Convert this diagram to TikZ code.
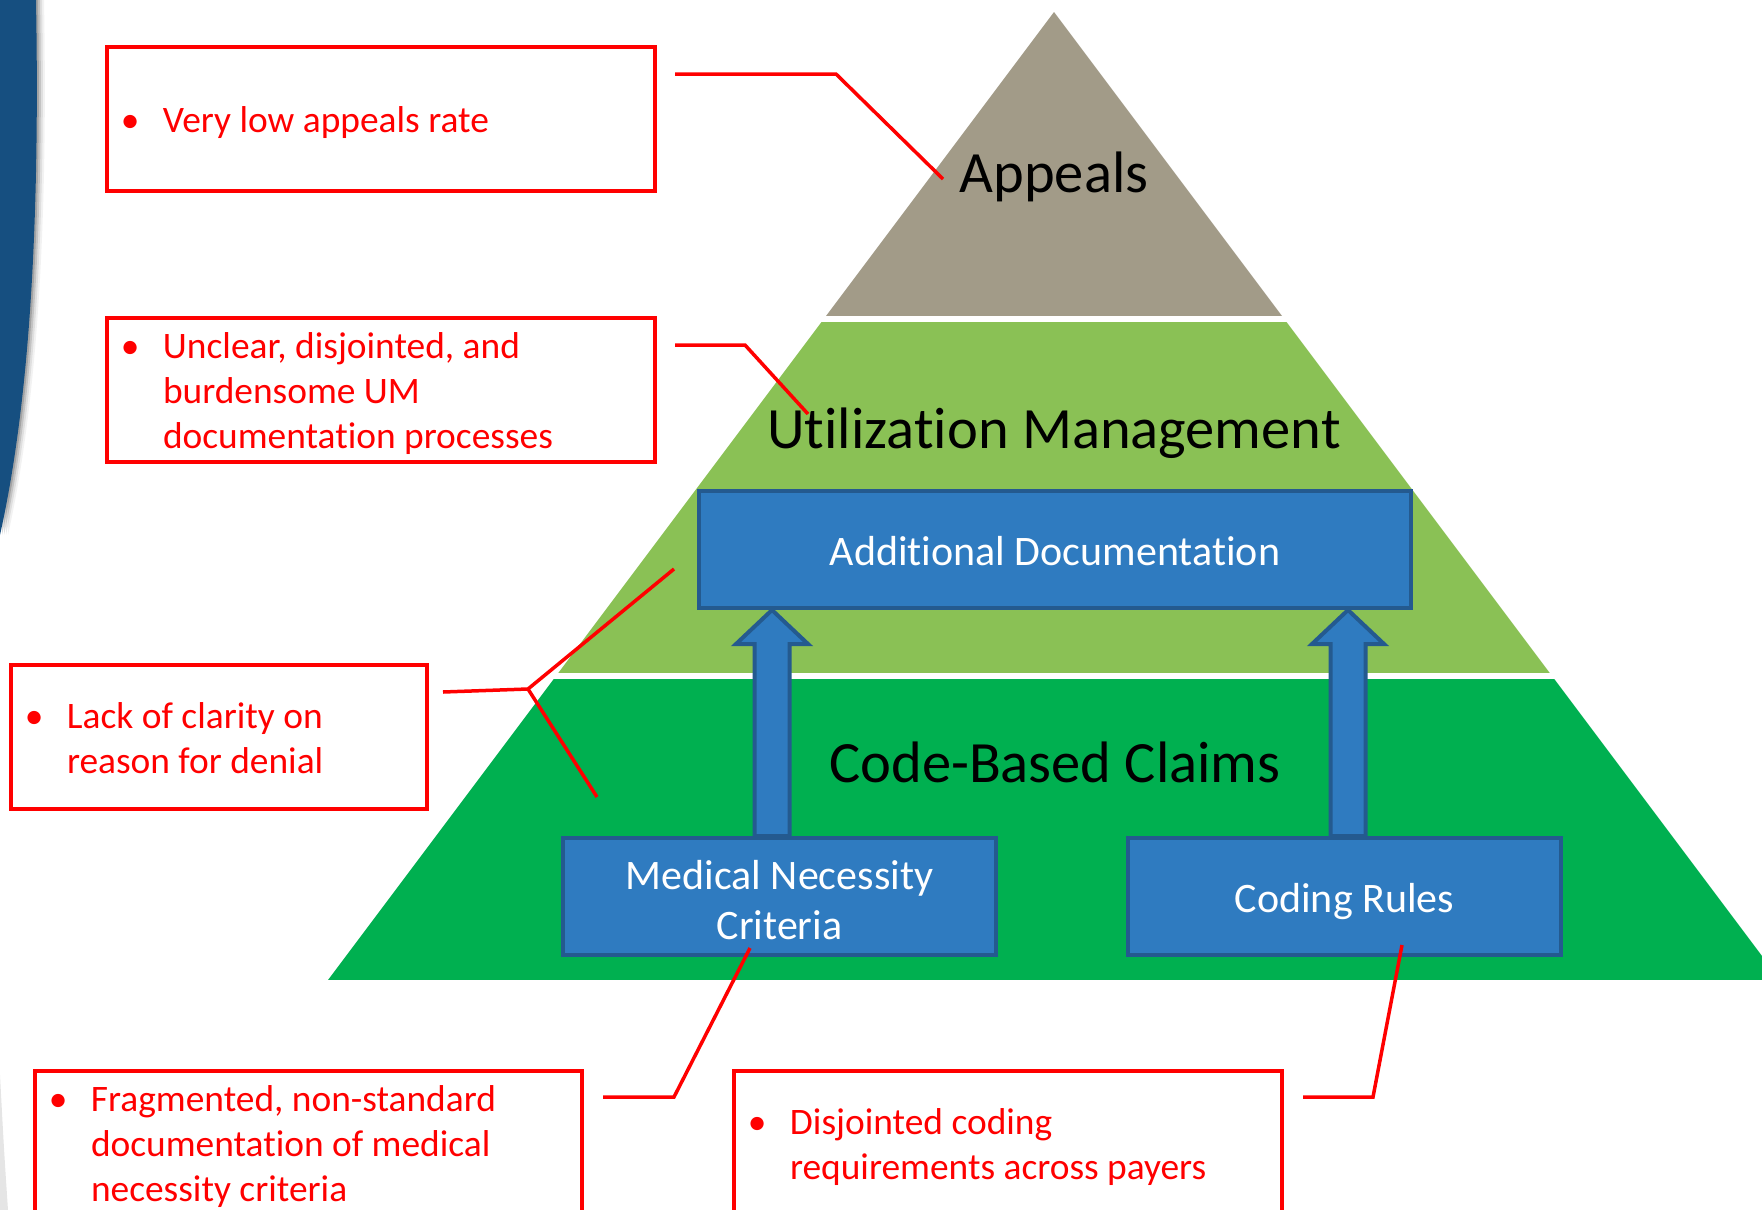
\documentclass[tikz,border=0pt]{standalone}
\usepackage{fontspec}
\setmainfont{Carlito}[Ligatures={NoCommon}]
\usetikzlibrary{calc,positioning}

\definecolor{swoosh}{HTML}{164F80}
\definecolor{appealgray}{HTML}{A29B88}
\definecolor{umgreen}{HTML}{8AC155}
\definecolor{cbgreen}{HTML}{00B050}
\definecolor{boxblue}{HTML}{2F7BC0}
\definecolor{boxedge}{HTML}{245A8F}

\newcommand{\tierfont}{\fontsize{58.5}{70}\selectfont}
\newcommand{\notefont}{\fontsize{37.4}{45}\selectfont}
\newcommand{\cellfont}{\fontsize{42}{50.5}\selectfont}
% struts: height above / depth below the baseline
\newcommand{\notestrut}{\rule[-9pt]{0pt}{45pt}}
\newcommand{\cellstrut}{\rule[-9pt]{0pt}{49pt}}
\newcommand{\plainspaces}{\spaceskip=\fontdimen2\font\relax\xspaceskip=\fontdimen2\font\relax}
\newcommand{\bullitem}{\llap{\textbullet\hspace{23.5pt}}}

% hollow up-arrow from a foot point to a tip point
\newcommand{\liftarrow}[2]{%
  \draw[blockarrow] ($(#1)+(-17.5,0)$) -- ($(#2)+(-17.5,34)$) -- ($(#2)+(-36,34)$)
    -- (#2) -- ($(#2)+(36,34)$) -- ($(#2)+(17.5,34)$) -- ($(#1)+(17.5,0)$) -- cycle;}

\begin{document}
\begin{tikzpicture}[
    x=1pt, y=-1pt,
    redbox/.style={draw=red, line width=3.5, inner xsep=56, inner ysep=0,
      minimum height=144, align=left, text=red, font=\notefont,
      execute at begin node={\plainspaces\notestrut}, execute at end node=\notestrut},
    bluebox/.style={draw=boxedge, fill=boxblue, line width=4, text=white,
      align=center, font=\cellfont,
      execute at begin node=\cellstrut, execute at end node=\cellstrut},
    blockarrow/.style={draw=boxedge, fill=boxblue, line width=4, line join=miter},
    tierlabel/.style={font=\tierfont, anchor=base, inner sep=0},
    leader/.style={red, line width=3.5}
  ]
  \useasboundingbox (0,0) rectangle (1762,1210);
  \clip (0,0) rectangle (1762,1210);
  \fill[white] (0,0) rectangle (1762,1210);

  % blue swoosh on the left edge, with a soft shadow
  \foreach \s/\o in {8/0.05,6/0.08,4/0.12,2/0.16}
    \fill[black, opacity=\o, xshift=\s] (0,0) -- (36,0) .. controls (40,220) and (30,400) .. (0,535) -- cycle;
  \fill[swoosh] (0,0) -- (36,0) .. controls (40,220) and (30,400) .. (0,535) -- cycle;
  \fill[black, opacity=0.1] (0,1075) .. controls (4,1150) .. (8,1210) -- (0,1210) -- cycle;

  % pyramid, cut into three bands
  \coordinate (apex) at (1054,12);
  \coordinate (baseL) at (328,980);
  \coordinate (baseR) at (1780,980);
  \begin{scope}
    \clip (apex) -- (baseL) -- (baseR) -- cycle;
    \fill[appealgray] (0,0) rectangle (1762,316);
    \fill[umgreen] (0,322) rectangle (1762,673);
    \fill[cbgreen] (0,679) rectangle (1762,980);
  \end{scope}

  % blue blocks and arrows
  \node[bluebox, minimum width=712, minimum height=117] (adddoc) at (1055,549.5) {Additional Documentation};
  \node[bluebox, minimum width=433, minimum height=117] (medcrit) at (779.5,896.5)
    {\rule{0pt}{44.5pt}Medical Necessity\\Criteria};
  \node[bluebox, minimum width=433, minimum height=117] (coding) at (1344.5,896.5) {Coding Rules};

  \coordinate (lfoot) at ([xshift=-7.5pt]medcrit.north);
  \coordinate (ltip) at (lfoot |- adddoc.south);
  \coordinate (rfoot) at ([xshift=3.5pt]coding.north);
  \coordinate (rtip) at (rfoot |- adddoc.south);
  \liftarrow{lfoot}{ltip}
  \liftarrow{rfoot}{rtip}

  \node[tierlabel] (appeals) at (1054,192) {Appeals};
  \node[tierlabel] (utilmgmt) at (1054,448) {Utilization Management};
  \node[tierlabel] (codeclaims) at (1055,782) {Code-Based Claims};

  % red call-outs
  \node[redbox, text width=436pt] (appealnote) at (381,119) {\bullitem Very low appeals rate};
  \node[redbox, text width=436pt] (umnote) at (381,390)
    {\bullitem Unclear, disjointed, and\\burdensome UM\\documentation processes};
  \node[redbox, text width=304pt] (denialnote) at (219,737)
    {\bullitem Lack of clarity on\\reason for denial};
  \node[redbox, text width=435pt] (critnote) at (308.5,1143)
    {\bullitem Fragmented, non-standard\\documentation of medical\\necessity criteria};
  \node[redbox, text width=436pt] (codingnote) at (1008,1143)
    {\bullitem Disjointed coding\\requirements across payers};

  % leader lines
  \coordinate (a0) at (675,74);   \coordinate (a1) at (836,74);   \coordinate (a2) at (943,179);
  \coordinate (b0) at (675,345);  \coordinate (b1) at (745,345);  \coordinate (b2) at (808,414);
  \coordinate (c0) at (443,692);  \coordinate (c1) at (528,689);
  \coordinate (c2) at (674,569);  \coordinate (c3) at (597,797);
  \coordinate (d0) at (603,1097); \coordinate (d1) at (674,1097); \coordinate (d2) at (750,948);
  \coordinate (e0) at (1303,1097); \coordinate (e1) at (1373,1097); \coordinate (e2) at (1402,945);

  \draw[leader] (a0) -- (a1) -- (a2);
  \draw[leader] (b0) -- (b1) -- (b2);
  \draw[leader] (c0) -- (c1) -- (c2);
  \draw[leader] (c1) -- (c3);
  \draw[leader] (d0) -- (d1) -- (d2);
  \draw[leader] (e0) -- (e1) -- (e2);
\end{tikzpicture}
\end{document}
